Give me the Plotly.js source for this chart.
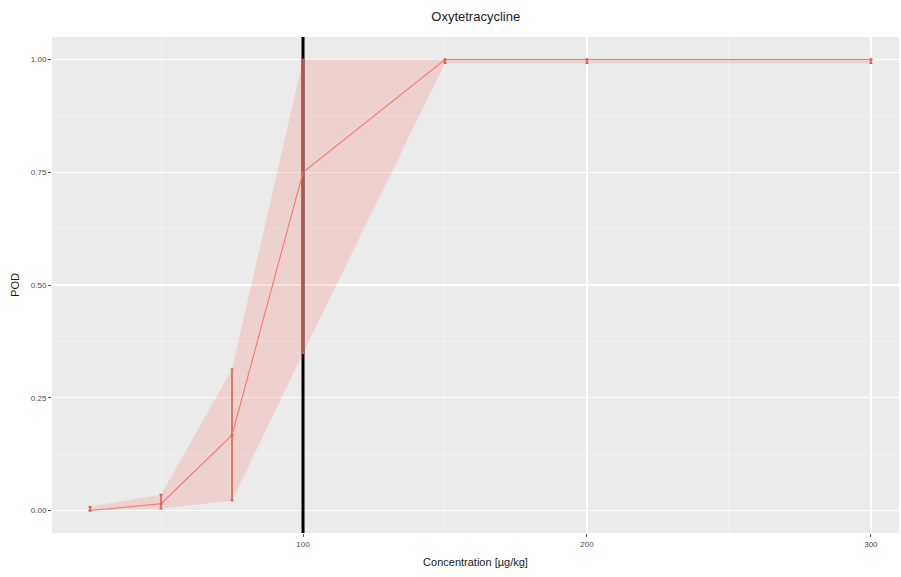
<!DOCTYPE html>
<html>
<head>
<meta charset="utf-8">
<script src="https://cdn.plot.ly/plotly-3.0.1.min.js"></script>
<style>
  html, body { margin: 0; padding: 0; background: #ffffff; }
  #chart { width: 901px; height: 577px; }
</style>
</head>
<body>
<div id="chart"></div>
<script>
// Probability of detection for oxytetracycline at each spiking level
const concentration = [25, 50, 75, 100, 150, 200, 300];
const pod           = [0, 0.015, 0.167, 0.75, 1, 1, 1];
const podLower      = [0, 0.004, 0.022, 0.349, 0.992, 0.992, 0.992];
const podUpper      = [0.008, 0.035, 0.313, 1, 1, 1, 1];
const referenceLevel = 100;

const xTicks = [100, 200, 300];
const yTicks = [0, 0.25, 0.5, 0.75, 1];
const yRange = [-0.05, 1.05];

const red = '#F8766D';

// confidence band as a closed polygon: lower bound forward, upper bound back
const bandX = concentration.concat(concentration.slice().reverse());
const bandY = podLower.concat(podUpper.slice().reverse());

const traces = [
  // reference concentration, drawn first so the band and bars sit on top
  {
    x: [referenceLevel, referenceLevel], y: yRange,
    type: 'scatter', mode: 'lines',
    line: { color: '#000000', width: 3 },
    cliponaxis: true, hoverinfo: 'skip', showlegend: false
  },
  {
    x: bandX, y: bandY,
    type: 'scatter', mode: 'lines',
    fill: 'toself',
    fillcolor: 'rgba(248,118,109,0.22)',
    line: { width: 0, color: 'rgba(0,0,0,0)' },
    hoverinfo: 'skip', showlegend: false
  },
  {
    x: concentration, y: pod,
    type: 'scatter', mode: 'lines+markers',
    line: { color: red, width: 1.1 },
    marker: { color: '#E0625A', size: 3 },
    error_y: {
      type: 'data', symmetric: false,
      array: podUpper.map((u, i) => u - pod[i]),
      arrayminus: pod.map((p, i) => p - podLower[i]),
      color: '#D9615A', thickness: 1.6, width: 1.5
    },
    showlegend: false
  }
];

const layout = {
  width: 901, height: 577,
  margin: { l: 52, r: 2, t: 37, b: 44 },
  paper_bgcolor: '#ffffff',
  plot_bgcolor: '#EBEBEB',
  font: { family: 'Liberation Sans, Arial, sans-serif', color: '#4D4D4D' },
  title: {
    text: 'Oxytetracycline',
    x: 0.528, xanchor: 'center', y: 0.972, yanchor: 'middle',
    font: { size: 13, color: '#1a1a1a' }
  },
  xaxis: {
    range: [11.6, 309.9],
    tickvals: xTicks, ticktext: xTicks.map(String),
    ticks: 'outside', ticklen: 3, tickcolor: '#555', tickwidth: 1,
    tickfont: { size: 8, color: '#4D4D4D' },
    showgrid: true, gridcolor: '#ffffff', gridwidth: 1.3,
    minor: { dtick: 50, tick0: 0, showgrid: true, gridcolor: '#F5F5F5', gridwidth: 0.7 },
    zeroline: false, showline: false,
    title: { text: 'Concentration [µg/kg]', font: { size: 11, color: '#1a1a1a' }, standoff: 10 }
  },
  yaxis: {
    range: yRange,
    tickvals: yTicks, ticktext: yTicks.map(v => v.toFixed(2)),
    ticks: 'outside', ticklen: 3, tickcolor: '#555', tickwidth: 1,
    tickfont: { size: 8, color: '#4D4D4D' },
    showgrid: true, gridcolor: '#ffffff', gridwidth: 1.3,
    minor: { dtick: 0.125, tick0: 0, showgrid: true, gridcolor: '#F5F5F5', gridwidth: 0.7 },
    zeroline: false, showline: false,
    title: { text: 'POD', font: { size: 11, color: '#1a1a1a' }, standoff: 8 }
  }
};

Plotly.newPlot('chart', traces, layout, { displayModeBar: false, staticPlot: true });
</script>
</body>
</html>
